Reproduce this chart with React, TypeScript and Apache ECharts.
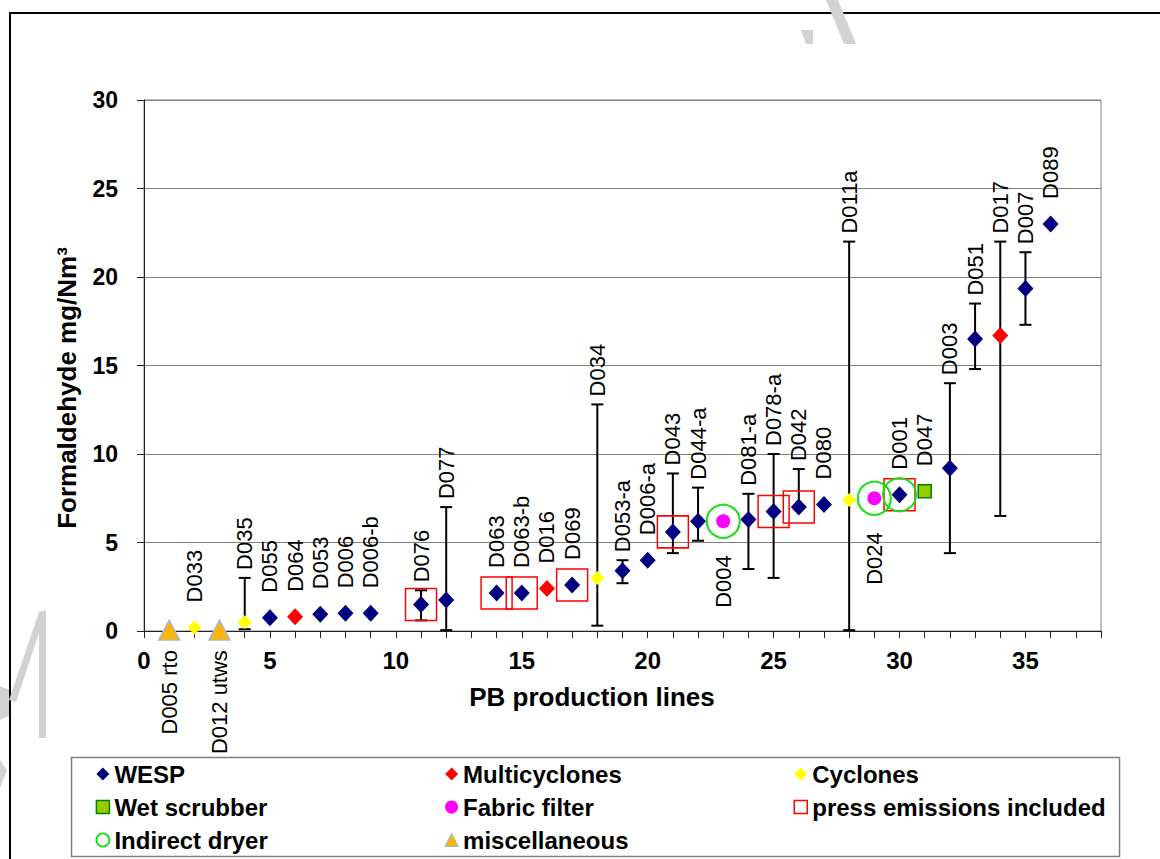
import React, { useEffect, useRef } from 'react';
import * as echarts from 'echarts';

// Production line number on the x axis
const lineNo = [1, 2, 3, 4, 5, 6, 7, 8, 9, 11, 12, 14, 15, 16, 17, 18, 19, 20, 21, 22, 23, 24, 25, 26, 27, 28, 29, 30, 31, 32, 33, 34, 35, 36];
// Plant / line identifier shown next to each point
const plantId = ['D005 rto', 'D033', 'D012 utws', 'D035', 'D055', 'D064', 'D053', 'D006', 'D006-b', 'D076', 'D077', 'D063', 'D063-b', 'D016', 'D069', 'D034', 'D053-a', 'D006-a', 'D043', 'D044-a', 'D004', 'D081-a', 'D078-a', 'D042', 'D080', 'D011a', 'D024', 'D001', 'D047', 'D003', 'D051', 'D017', 'D007', 'D089'];
// Dryer abatement technique per line
const abatement = ['misc', 'cyc', 'misc', 'cyc', 'wesp', 'multi', 'wesp', 'wesp', 'wesp', 'wesp', 'wesp', 'wesp', 'wesp', 'multi', 'wesp', 'cyc', 'wesp', 'wesp', 'wesp', 'wesp', 'ff', 'wesp', 'wesp', 'wesp', 'wesp', 'cyc', 'ff', 'wesp', 'wet', 'wesp', 'wesp', 'multi', 'wesp', 'wesp'];
// Average formaldehyde emission, mg/Nm3
const meanHcho = [0.05, 0.2, 0.05, 0.5, 0.75, 0.8, 0.95, 1.0, 1.0, 1.5, 1.75, 2.15, 2.15, 2.4, 2.6, 3.0, 3.4, 4.0, 5.6, 6.2, 6.2, 6.3, 6.75, 7.0, 7.15, 7.4, 7.5, 7.7, 7.9, 9.2, 16.5, 16.7, 19.35, 23.0];
// Range of single measurements (null = single value only)
const minHcho = [null, null, null, 0.1, null, null, null, null, null, 0.6, 0.05, null, null, null, null, 0.3, 2.7, null, 4.4, 5.1, null, 3.5, 3.0, 7.0, null, 0.05, null, null, null, 4.4, 14.8, 6.5, 17.3, null];
const maxHcho = [null, null, null, 3.0, null, null, null, null, null, 2.3, 7.0, null, null, null, null, 12.8, 4.0, null, 8.9, 8.1, null, 7.75, 10.0, 9.15, null, 22.0, null, null, null, 14.0, 18.5, 22.0, 21.4, null];
// Lines where press emissions are included in the dryer stack
const pressIncluded = [11, 14, 15, 17, 21, 25, 26, 30];
// Lines with an indirectly heated dryer
const indirectDryer = [23, 29, 30];
// Identifiers written underneath their point
const labelsBelow = ['D005 rto', 'D012 utws', 'D004', 'D024'];

const xTicks = [0, 5, 10, 15, 20, 25, 30, 35];
const yTicks = [0, 5, 10, 15, 20, 25, 30];

const FONT = 'Arial, "Liberation Sans", Helvetica, sans-serif';

const pointsOf = (key: string) =>
  lineNo.map((x, i) => (abatement[i] === key ? [x, meanHcho[i]] : null)).filter(Boolean);

const pointsAt = (lines: number[]) =>
  lines.map((ln) => [ln, meanHcho[lineNo.indexOf(ln)]]);

const errRows = lineNo.map((_, i) => i).filter((i) => minHcho[i] != null && maxHcho[i] != null);

const noEmphasis = { disabled: true };

function buildOption() {
  const legendText = { fontSize: 24, fontWeight: 'bold', color: '#000', fontFamily: FONT, lineHeight: 24 };
  const legendBase = {
    orient: 'vertical', top: 762, itemWidth: 13, itemHeight: 13, itemGap: 9, padding: 0,
    selectedMode: false, textStyle: legendText,
  };
  return {
    animation: false,
    backgroundColor: '#fff',
    grid: { left: 144, right: 59, top: 100, bottom: 228, show: true, borderColor: '#808080', borderWidth: 1, backgroundColor: '#fff' },
    xAxis: {
      type: 'value', min: 0, max: 38, interval: 1,
      axisLine: { onZero: false, lineStyle: { color: '#222', width: 1 } },
      axisTick: { show: true, inside: false, length: 7, lineStyle: { color: '#222' } },
      splitLine: { show: false },
      axisLabel: {
        margin: 17, fontSize: 24, fontWeight: 'bold', color: '#000', fontFamily: FONT,
        formatter: (v: number) => (xTicks.includes(v) ? String(v) : ''),
      },
    },
    yAxis: {
      type: 'value', min: 0, max: 30, interval: 5,
      axisLine: { show: true, lineStyle: { color: '#222', width: 1 } },
      axisTick: { show: true, inside: false, length: 7, lineStyle: { color: '#222' } },
      splitLine: { show: true, lineStyle: { color: '#808080', width: 1 } },
      axisLabel: {
        margin: 26, fontSize: 23, fontWeight: 'bold', color: '#000', fontFamily: FONT,
        formatter: (v: number) => (yTicks.includes(v) ? String(v) : ''),
      },
    },
    legend: [
      { ...legendBase, left: 95.5, data: [
        { name: 'WESP', icon: 'diamond' },
        { name: 'Wet scrubber', icon: 'rect', itemStyle: { color: '#99cc00', borderColor: '#008000', borderWidth: 1.5, opacity: 1 } },
        { name: 'Indirect dryer', icon: 'circle', itemStyle: { color: 'rgba(0,0,0,0)', borderColor: '#14e014', borderWidth: 1.8, opacity: 1 } },
      ] },
      { ...legendBase, left: 444.5, data: [
        { name: 'Multicyclones', icon: 'diamond' },
        { name: 'Fabric filter', icon: 'circle' },
        { name: 'miscellaneous', icon: 'triangle', itemStyle: { color: '#ffb400', borderColor: '#a6b9d6', borderWidth: 1.2, opacity: 1 } },
      ] },
      { ...legendBase, left: 793.5, data: [
        { name: 'Cyclones', icon: 'diamond' },
        { name: 'press emissions included', icon: 'rect', itemStyle: { color: 'rgba(0,0,0,0)', borderColor: '#ff0000', borderWidth: 1.5, opacity: 1 } },
      ] },
    ],
    graphic: [
      // outer frame
      { type: 'rect', z: 0, shape: { x: 10, y: 13, width: 1170, height: 870 }, style: { fill: 'none', stroke: '#000', lineWidth: 2 } },
      // faint watermark strokes
      { type: 'polygon', z: 0, shape: { points: [[826, 0], [838, 0], [856, 44], [844, 44]] }, style: { fill: '#d2d2d2' } },
      { type: 'polygon', z: 0, shape: { points: [[801, 30], [813, 30], [813, 44], [806, 44]] }, style: { fill: '#d2d2d2' } },
      { type: 'polygon', z: 0, shape: { points: [[39, 612], [46, 610], [46, 738], [39, 738]] }, style: { fill: '#d2d2d2' } },
      { type: 'polygon', z: 0, shape: { points: [[39, 612], [46, 612], [16, 702], [9, 700]] }, style: { fill: '#d2d2d2' } },
      { type: 'polygon', z: 0, shape: { points: [[0, 686], [9, 690], [9, 716], [0, 720]] }, style: { fill: '#d2d2d2' } },
      { type: 'polygon', z: 0, shape: { points: [[0, 760], [7, 770], [0, 788]] }, style: { fill: '#d2d2d2' } },
      // legend frame
      { type: 'rect', z: 0, shape: { x: 71.5, y: 757.5, width: 1048, height: 99 }, style: { fill: 'none', stroke: '#808080', lineWidth: 1.5 } },
      // axis titles
      { type: 'text', x: 67, y: 388, rotation: Math.PI / 2, style: { text: 'Formaldehyde mg/Nm³', fontSize: 26, fontWeight: 'bold', fontFamily: FONT, fill: '#000', textAlign: 'center', textVerticalAlign: 'middle' } },
      { type: 'text', x: 592, y: 697, style: { text: 'PB production lines', fontSize: 26, fontWeight: 'bold', fontFamily: FONT, fill: '#000', textAlign: 'center', textVerticalAlign: 'middle' } },
    ],
    series: [
      {
        type: 'custom', name: 'range', z: 2, silent: true, clip: false,
        encode: { x: 0, y: [1, 2] },
        data: errRows.map((i) => [lineNo[i], minHcho[i], maxHcho[i]]),
        renderItem: (_p: any, api: any) => {
          const lo = api.coord([api.value(0), api.value(1)]);
          const hi = api.coord([api.value(0), api.value(2)]);
          const hw = 6;
          const st = { stroke: '#000', lineWidth: 2 };
          return {
            type: 'group',
            children: [
              { type: 'line', shape: { x1: lo[0], y1: lo[1], x2: hi[0], y2: hi[1] }, style: st },
              { type: 'line', shape: { x1: lo[0] - hw, y1: lo[1], x2: lo[0] + hw, y2: lo[1] }, style: st },
              { type: 'line', shape: { x1: hi[0] - hw, y1: hi[1], x2: hi[0] + hw, y2: hi[1] }, style: st },
            ],
          };
        },
      },
      { type: 'scatter', name: 'WESP', z: 3, symbol: 'diamond', symbolSize: [16, 17], itemStyle: { color: '#000080', opacity: 1 }, emphasis: noEmphasis, data: pointsOf('wesp') },
      { type: 'scatter', name: 'Multicyclones', z: 3, symbol: 'diamond', symbolSize: [16, 17], itemStyle: { color: '#ff0000', opacity: 1 }, emphasis: noEmphasis, data: pointsOf('multi') },
      { type: 'scatter', name: 'Cyclones', z: 3, symbol: 'diamond', symbolSize: [14, 14], itemStyle: { color: '#ffff00', opacity: 1 }, emphasis: noEmphasis, data: pointsOf('cyc') },
      { type: 'scatter', name: 'Wet scrubber', z: 3, symbol: 'rect', symbolSize: 13, itemStyle: { color: '#99cc00', borderColor: '#008000', borderWidth: 1.5, opacity: 1 }, emphasis: noEmphasis, data: pointsOf('wet') },
      { type: 'scatter', name: 'Fabric filter', z: 3, symbol: 'circle', symbolSize: 14, itemStyle: { color: '#ff00ff', opacity: 1 }, emphasis: noEmphasis, data: pointsOf('ff') },
      { type: 'scatter', name: 'miscellaneous', z: 3, symbol: 'triangle', symbolSize: [21, 20], itemStyle: { color: '#ffb400', borderColor: '#a6b9d6', borderWidth: 1.5, opacity: 1 }, emphasis: noEmphasis, data: pointsOf('misc') },
      { type: 'scatter', name: 'press emissions included', z: 4, symbol: 'rect', symbolSize: [31, 32], itemStyle: { color: 'rgba(0,0,0,0)', borderColor: '#ff0000', borderWidth: 1.5, opacity: 1 }, emphasis: noEmphasis, data: pointsAt(pressIncluded) },
      { type: 'scatter', name: 'Indirect dryer', z: 4, symbol: 'circle', symbolSize: 33, itemStyle: { color: 'rgba(0,0,0,0)', borderColor: '#14e014', borderWidth: 2, opacity: 1 }, emphasis: noEmphasis, data: pointsAt(indirectDryer) },
      {
        type: 'custom', name: 'ids', z: 5, silent: true, clip: false,
        encode: { x: 0, y: 1 },
        data: lineNo.map((x, i) => [x, meanHcho[i]]),
        renderItem: (p: any, api: any) => {
          const i = p.dataIndex;
          const below = labelsBelow.includes(plantId[i]);
          let x: number;
          let y: number;
          let align: string;
          if (below) {
            const pt = api.coord([lineNo[i], meanHcho[i]]);
            x = pt[0];
            y = pt[1] + (indirectDryer.includes(lineNo[i]) ? 34 : 20);
            align = 'right';
          } else {
            const hasRange = maxHcho[i] != null;
            const pt = api.coord([lineNo[i], hasRange ? maxHcho[i] : meanHcho[i]]);
            x = pt[0];
            y = pt[1] - (hasRange ? 8 : 25);
            align = 'left';
          }
          return {
            type: 'text', x, y, rotation: Math.PI / 2,
            style: { text: plantId[i], textAlign: align, textVerticalAlign: 'middle', fontSize: 22, fontFamily: FONT, fill: '#000' },
          };
        },
      },
    ],
  };
}

export default function App() {
  const ref = useRef<HTMLDivElement>(null);
  useEffect(() => {
    if (!ref.current) return;
    const chart = echarts.init(ref.current, null, { renderer: 'svg' });
    chart.setOption(buildOption() as any);
    return () => chart.dispose();
  }, []);
  return (
    <div
      ref={ref}
      style={{ position: 'fixed', left: 0, top: 0, width: 1160, height: 859, background: '#fff' }}
    />
  );
}
